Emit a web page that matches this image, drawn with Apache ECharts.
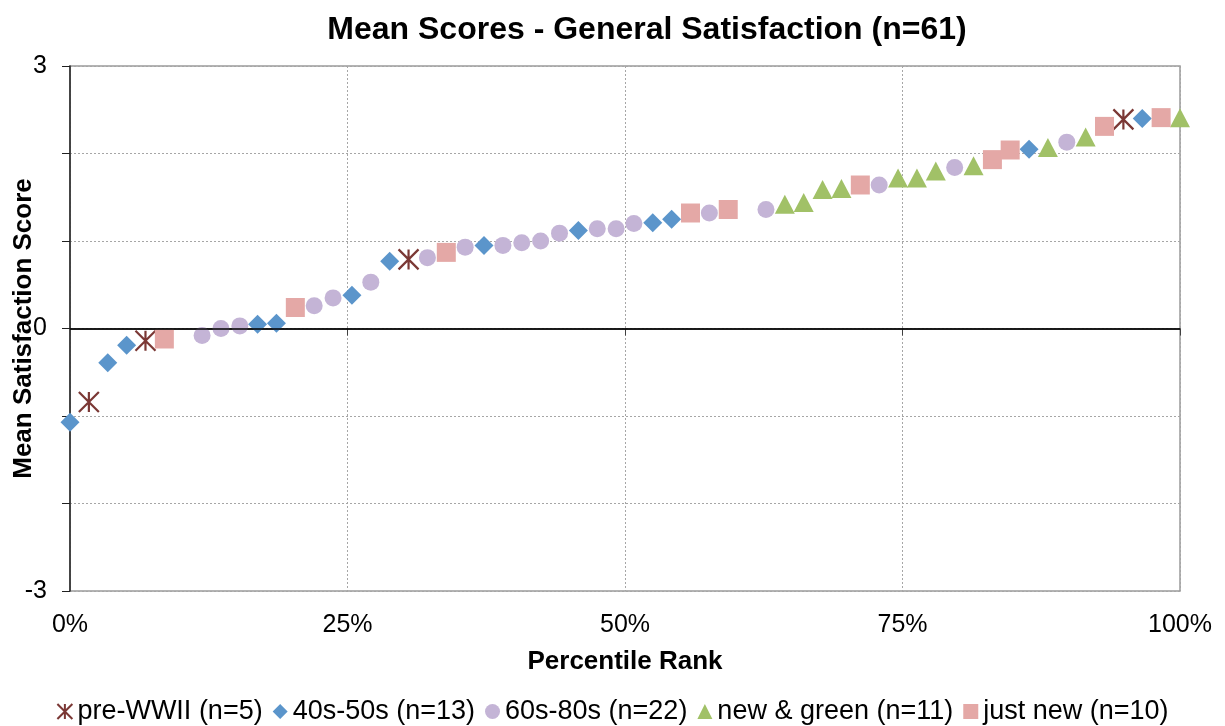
<!DOCTYPE html>
<html>
<head>
<meta charset="utf-8">
<script src="https://cdn.jsdelivr.net/npm/echarts@6/dist/echarts.min.js"></script>
<style>
  html, body { margin: 0; padding: 0; background: #fff; }
  #chart { width: 1225px; height: 726px; }
</style>
</head>
<body>
<div id="chart"></div>
<script>
// percentile rank (%) and mean score for each group
var preWwiiRank = [1.7, 6.8, 30.5, 94.9];
var preWwiiScore = [-0.84, -0.14, 0.79, 2.39];

var fortiesRank = [0, 3.4, 5.1, 16.9, 18.6, 25.4, 28.8, 37.3, 45.8, 52.5, 54.2, 86.4, 96.6];
var fortiesScore = [-1.07, -0.39, -0.19, 0.05, 0.06, 0.38, 0.77, 0.95, 1.12, 1.21, 1.25, 2.05, 2.40];

var sixtiesRank = [11.9, 13.6, 15.3, 22.0, 23.7, 27.1, 32.2, 35.6, 39.0, 40.7, 42.4, 44.1, 47.5, 49.2, 50.8, 57.6, 62.7, 72.9, 79.7, 89.8];
var sixtiesScore = [-0.08, 0.00, 0.03, 0.26, 0.35, 0.53, 0.81, 0.93, 0.95, 0.98, 1.00, 1.09, 1.14, 1.14, 1.20, 1.32, 1.36, 1.64, 1.84, 2.13];

var greenRank = [64.4, 66.1, 67.8, 69.5, 74.6, 76.3, 78.0, 81.4, 88.1, 91.5, 100];
var greenScore = [1.42, 1.44, 1.59, 1.60, 1.72, 1.72, 1.80, 1.86, 2.07, 2.19, 2.41];

var justNewRank = [8.5, 20.3, 33.9, 55.9, 59.3, 71.2, 83.1, 84.7, 93.2, 98.3];
var justNewScore = [-0.12, 0.24, 0.87, 1.32, 1.36, 1.64, 1.93, 2.04, 2.31, 2.41];

var seriesNames = ['pre-WWII (n=5)', '40s-50s (n=13)', '60s-80s (n=22)', 'new & green (n=11)', 'just new (n=10)'];
var yLabels = [-3, 0, 3];

function pairs(xs, ys) {
    var out = [];
    for (let i = 0; i < xs.length; i++) {
        out.push([xs[i], ys[i]]);
    }
    return out;
}

var font = 'Liberation Sans, Arial, sans-serif';
var chart = echarts.init(document.getElementById('chart'));

var option = {
    animation: false,
    title: {
        text: 'Mean Scores - General Satisfaction (n=61)',
        left: 642,
        textAlign: 'center',
        top: 9,
        textStyle: { fontFamily: font, fontSize: 32, fontWeight: 'bold', color: '#000' }
    },
    legend: {
        data: seriesNames,
        left: 'center',
        top: 693,
        itemWidth: 15,
        itemHeight: 15,
        itemGap: 10,
        textStyle: { fontFamily: font, fontSize: 27, color: '#000' }
    },
    grid: {
        left: 70,
        right: 45,
        top: 66,
        bottom: 135,
        outerBoundsMode: 'none',
        show: true,
        borderColor: '#9a9a9a',
        borderWidth: 1.5
    },
    xAxis: {
        type: 'value',
        min: 0,
        max: 100,
        interval: 25,
        name: 'Percentile Rank',
        nameLocation: 'middle',
        nameGap: 58,
        nameMoveOverlap: false,
        nameTextStyle: { fontFamily: font, fontSize: 26, fontWeight: 'bold', color: '#000' },
        axisLine: { lineStyle: { color: '#404040', width: 1.5 } },
        axisTick: { show: true, length: 7, lineStyle: { color: '#404040' } },
        axisLabel: {
            formatter: '{value}%',
            margin: 22,
            fontFamily: font,
            fontSize: 25,
            color: '#000'
        },
        splitLine: { show: true, lineStyle: { color: '#a6a6a6', type: [2, 2], width: 1 } }
    },
    yAxis: {
        type: 'value',
        min: -3,
        max: 3,
        interval: 1,
        name: 'Mean Satisfaction Score',
        nameLocation: 'middle',
        nameGap: 33,
        nameMoveOverlap: false,
        nameTextStyle: { fontFamily: font, fontSize: 26, fontWeight: 'bold', color: '#000' },
        axisLine: { lineStyle: { color: '#202020', width: 1.5 } },
        axisTick: { show: true, length: 8, lineStyle: { color: '#202020' } },
        axisLabel: {
            margin: 23,
            fontFamily: font,
            fontSize: 25,
            color: '#000',
            formatter: function (value) {
                return yLabels.indexOf(value) >= 0 ? String(value) : '';
            }
        },
        splitLine: { show: true, lineStyle: { color: '#a6a6a6', type: [2, 2], width: 1 } }
    },
    series: [
        {
            name: seriesNames[0],
            type: 'scatter',
            symbol: 'path://M0,0L20,20M20,0L0,20M10,0L10,20',
            symbolSize: 20,
            itemStyle: { color: 'rgba(0,0,0,0)', borderColor: '#7b3835', borderWidth: 2.2, opacity: 1 },
            data: pairs(preWwiiRank, preWwiiScore),
            markLine: {
                silent: true,
                symbol: 'none',
                label: { show: false },
                lineStyle: { color: '#000', type: 'solid', width: 1.5 },
                data: [{ yAxis: 0 }]
            },
            z: 3
        },
        {
            name: seriesNames[1],
            type: 'scatter',
            symbol: 'diamond',
            symbolSize: 19,
            itemStyle: { color: '#5b95cb', opacity: 1 },
            data: pairs(fortiesRank, fortiesScore),
            z: 3
        },
        {
            name: seriesNames[2],
            type: 'scatter',
            symbol: 'circle',
            symbolSize: 17,
            itemStyle: { color: '#c4b4d6', opacity: 1 },
            data: pairs(sixtiesRank, sixtiesScore),
            z: 3
        },
        {
            name: seriesNames[3],
            type: 'scatter',
            symbol: 'triangle',
            symbolSize: [20, 19],
            itemStyle: { color: '#a1c167', opacity: 1 },
            data: pairs(greenRank, greenScore),
            z: 3
        },
        {
            name: seriesNames[4],
            type: 'scatter',
            symbol: 'rect',
            symbolSize: 19,
            itemStyle: { color: '#e4a8a6', opacity: 1 },
            data: pairs(justNewRank, justNewScore),
            z: 3
        }
    ]
};
chart.setOption(option);
</script>
</body>
</html>
